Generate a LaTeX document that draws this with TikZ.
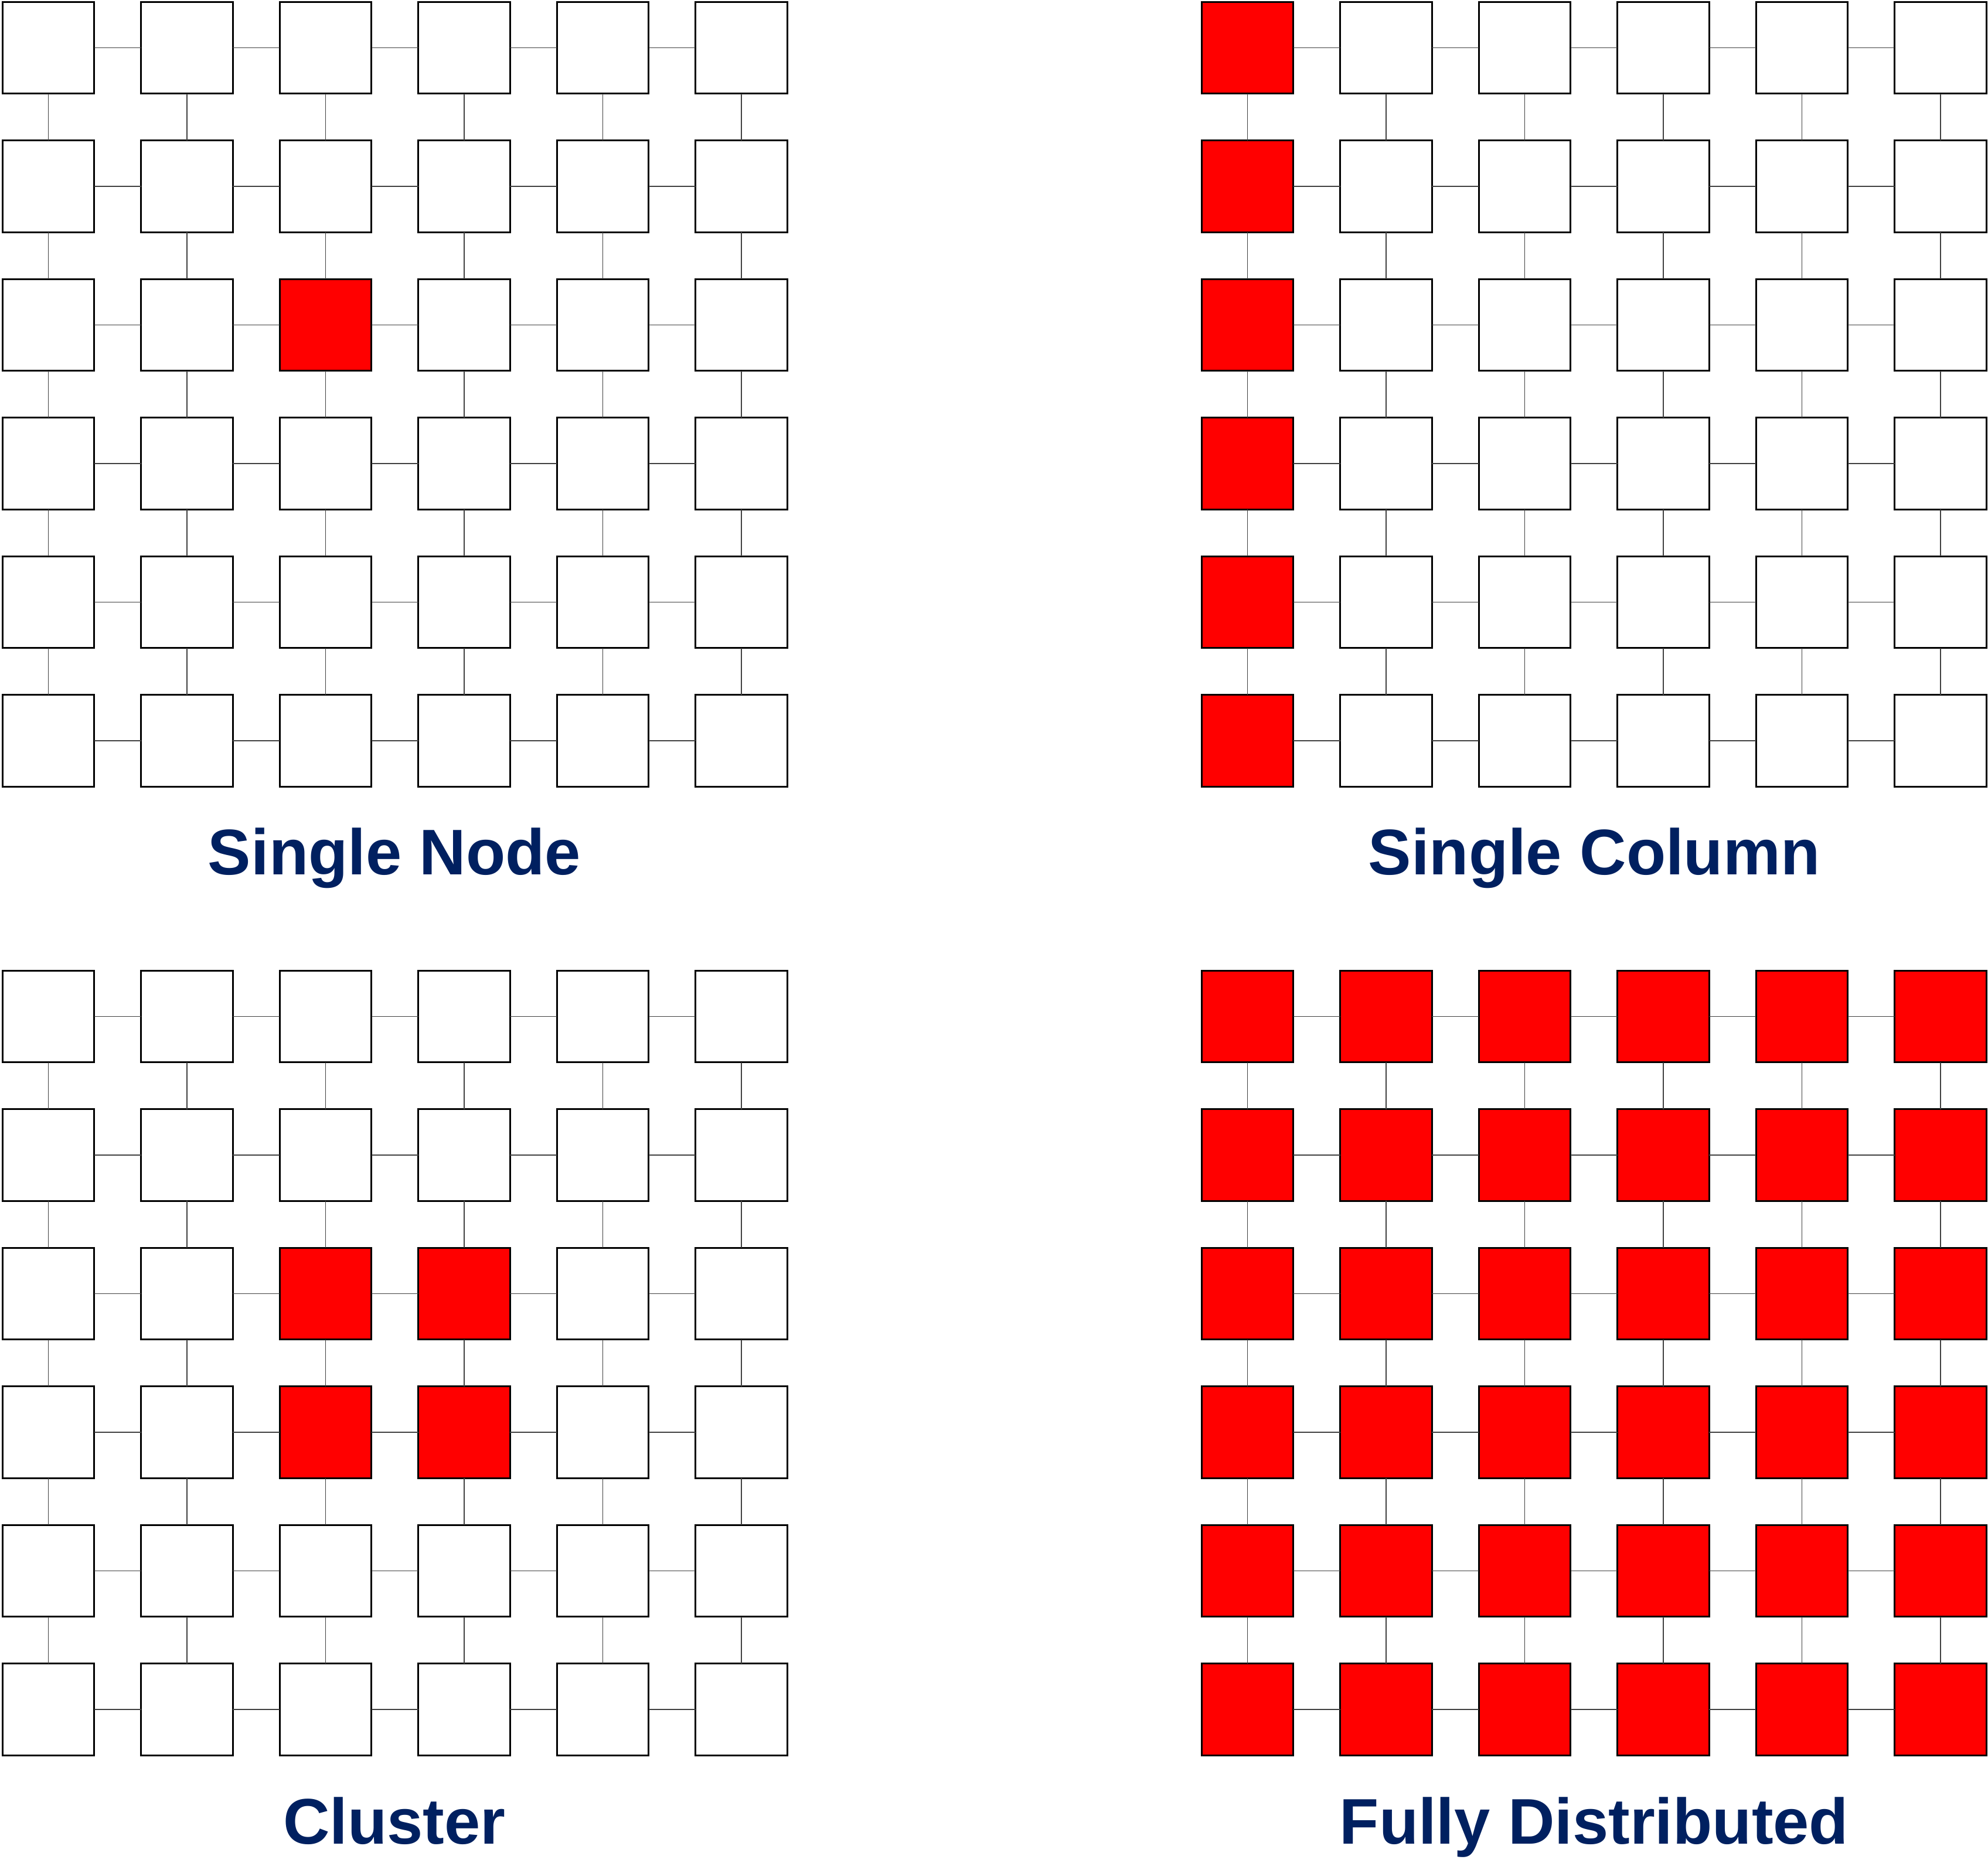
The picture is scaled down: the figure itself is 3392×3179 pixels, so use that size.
\documentclass[tikz,border=0pt]{standalone}
\usepackage{fontspec}
\setmainfont{Liberation Sans}
\definecolor{navy}{HTML}{002060}
\definecolor{hotred}{HTML}{FF0000}

\begin{document}
\begin{tikzpicture}[x=0.01cm, y=-0.01cm,
  cell/.style={draw=black, line width=0.85pt, minimum size=1.565cm, inner sep=0pt, outer sep=0pt},
  link/.style={black!75, line width=0.35pt},
  caption/.style={text=navy, font=\fontsize{31.3pt}{36pt}\selectfont\bfseries, anchor=base}]

\useasboundingbox (0,0) rectangle (3392,3179);

% --- Panel 1: Single Node ---
\foreach \r in {0,...,5}
  \foreach \c in {0,...,5} {
    \def\cellfill{white}
    \ifnum\r=2 \ifnum\c=2 \def\cellfill{hotred}\fi\fi
    \node[cell, fill=\cellfill] (sn-\r-\c) at (82.5+236.5*\c, 81.5+236.5*\r) {};
  }
\foreach \k in {0,...,5}
  \foreach \a [count=\b from 1] in {0,...,4} {
    \draw[link] (sn-\k-\a) -- (sn-\k-\b);
    \draw[link] (sn-\a-\k) -- (sn-\b-\k);
  }
\node[caption] (sn-title) at (673,1492) {Single Node};

% --- Panel 2: Single Column ---
\foreach \r in {0,...,5}
  \foreach \c in {0,...,5} {
    \def\cellfill{white}
    \ifnum\c=0 \def\cellfill{hotred}\fi
    \node[cell, fill=\cellfill] (sc-\r-\c) at (2128.5+236.5*\c, 81.5+236.5*\r) {};
  }
\foreach \k in {0,...,5}
  \foreach \a [count=\b from 1] in {0,...,4} {
    \draw[link] (sc-\k-\a) -- (sc-\k-\b);
    \draw[link] (sc-\a-\k) -- (sc-\b-\k);
  }
\node[caption] (sc-title) at (2720,1492) {Single Column};

% --- Panel 3: Cluster ---
\foreach \r in {0,...,5}
  \foreach \c in {0,...,5} {
    \def\cellfill{white}
    \ifnum\r>1 \ifnum\r<4 \ifnum\c>1 \ifnum\c<4 \def\cellfill{hotred}\fi\fi\fi\fi
    \node[cell, fill=\cellfill] (cl-\r-\c) at (82.5+236.5*\c, 1734.5+236.5*\r) {};
  }
\foreach \k in {0,...,5}
  \foreach \a [count=\b from 1] in {0,...,4} {
    \draw[link] (cl-\k-\a) -- (cl-\k-\b);
    \draw[link] (cl-\a-\k) -- (cl-\b-\k);
  }
\node[caption] (cl-title) at (673,3146) {Cluster};

% --- Panel 4: Fully Distributed ---
\foreach \r in {0,...,5}
  \foreach \c in {0,...,5}
    \node[cell, fill=hotred] (fd-\r-\c) at (2128.5+236.5*\c, 1734.5+236.5*\r) {};
\foreach \k in {0,...,5}
  \foreach \a [count=\b from 1] in {0,...,4} {
    \draw[link] (fd-\k-\a) -- (fd-\k-\b);
    \draw[link] (fd-\a-\k) -- (fd-\b-\k);
  }
\node[caption] (fd-title) at (2720,3146) {Fully Distributed};

\end{tikzpicture}
\end{document}
